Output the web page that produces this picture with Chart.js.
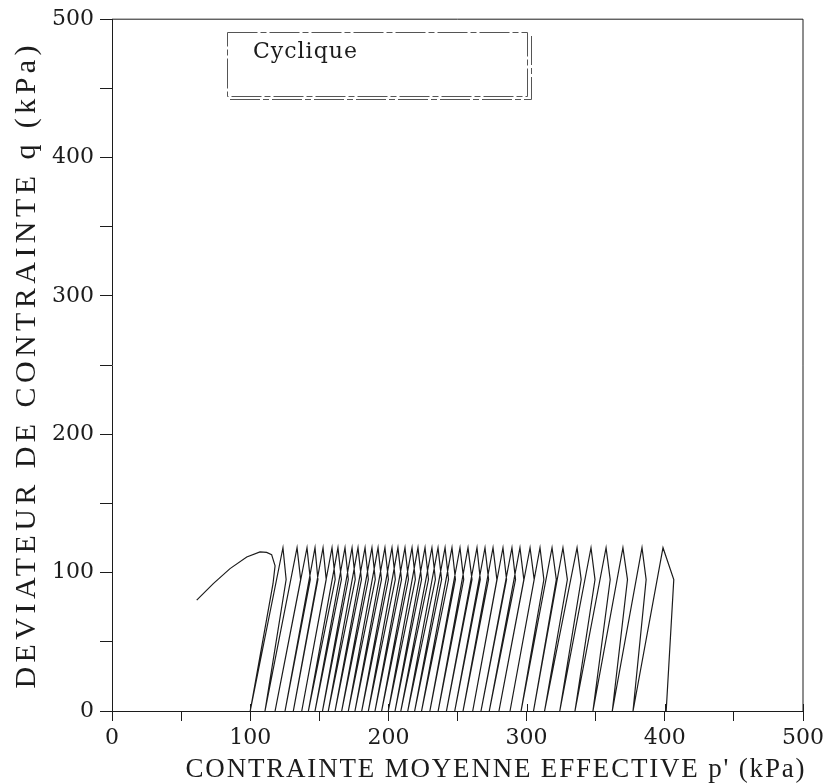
<!DOCTYPE html>
<html>
<head>
<meta charset="utf-8">
<script src="https://cdn.jsdelivr.net/npm/chart.js@4.4.0/dist/chart.umd.min.js"></script>
<style>
  body { margin: 0; background: #fff; }
  canvas { display: block; }
</style>
</head>
<body>
<canvas id="qp" width="831" height="784"></canvas>
<script>
// chemin des contraintes, essai cyclique
// p' au pied de chaque cycle (q = 0), dans l'ordre chronologique
var bottomP = [401, 377, 362, 348, 335, 324, 313, 305, 296, 288, 280, 273, 267, 261, 254, 248, 242, 236, 230, 224,
    219, 214, 209, 204.8, 199.9, 195.1, 190.3, 185.5, 180.7, 175.8, 171, 166.2, 161.4, 156.5, 152.3, 146.9, 142.1,
    137.3, 131.2, 125.2, 118, 110.7, 100]
// p' au sommet de chaque cycle
var peakP = [398.7, 383.5, 369.7, 357.5, 346.6, 336.5, 326.3, 318.4, 309.7, 302.5, 295.2, 289.4, 282.9, 275.7, 269.9,
    264.1, 257.6, 251.8, 246, 241, 235.9, 231.5, 226.5, 221.4, 217.1, 212, 206.9, 202.6, 197.5, 192.5, 188.1, 183.1,
    178, 173.7, 168.6, 163.5, 159.2, 152.7, 146.9, 141.1, 133.9, 123.7]
// p' sur la branche de chargement, juste sous le sommet
var bulgeP = [406.5, 386.5, 373, 360.5, 349.5, 339.5, 329.5, 321.5, 312.5, 305.5, 298, 292, 285.5, 278.5, 272.5,
    266.5, 260.5, 254.5, 248.5, 243.5, 238.5, 234, 229, 224, 219.5, 214.5, 209.5, 205, 200, 195, 190.5, 185.5,
    180.5, 176, 171, 166, 161.5, 155, 149, 143.5, 136.5, 126]
var qPeak = 118
var qBulge = 95
// dernier chargement puis rupture
var failP = [116.5, 118, 115.5, 111.9, 107.1, 97.5, 85.4, 73.3, 61.3]
var failQ = [92, 105, 113, 114.6, 115, 111.3, 102.9, 92.1, 80.1]

var xTicks = [0, 100, 200, 300, 400, 500]
var xTitle = "CONTRAINTE MOYENNE EFFECTIVE p' (kPa)"
var yTitle = 'DEVIATEUR DE CONTRAINTE q (kPa)'
var legendText = 'Cyclique'

// construction du chemin
var path = []
for (var i = 0; i < peakP.length; i++) {
    path.push({ x: bottomP[i], y: 0 })
    path.push({ x: bulgeP[i], y: qBulge })
    path.push({ x: peakP[i], y: qPeak })
}
path.push({ x: bottomP[bottomP.length - 1], y: 0 })
for (var i = 0; i < failP.length; i++) path.push({ x: failP[i], y: failQ[i] })

var ink = '#1c1c1c'
var tickFont = { family: 'DejaVu Serif', size: 22 }

// texte étiré sur une longueur donnée
function spacedText(ctx, text, cx, cy, target) {
    ctx.letterSpacing = '0px'
    var w = ctx.measureText(text).width
    var sp = (target - w) / (text.length - 1)
    ctx.letterSpacing = sp + 'px'
    ctx.textAlign = 'left'
    ctx.fillText(text, cx - target / 2, cy)
}

const frame = {
    id: 'frame',
    afterDraw(chart) {
        const ctx = chart.ctx, a = chart.chartArea, x = chart.scales.x
        ctx.save()
        ctx.strokeStyle = ink
        ctx.lineWidth = 1
        ctx.beginPath()
        ctx.moveTo(a.left, a.top); ctx.lineTo(a.right, a.top); ctx.lineTo(a.right, a.bottom)
        xTicks.forEach(v => {
            const px = Math.round(x.getPixelForValue(v)) + 0.5
            ctx.moveTo(px, a.bottom); ctx.lineTo(px, a.bottom - 7)
        })
        ctx.stroke()

        // cadre de la légende (ombré)
        ctx.strokeStyle = '#555'
        ctx.setLineDash([30, 3, 6, 3])
        ctx.strokeRect(227.5, 32.5, 300, 64)
        ctx.beginPath()
        ctx.moveTo(230, 99.5); ctx.lineTo(531.5, 99.5); ctx.lineTo(531.5, 36)
        ctx.stroke()
        ctx.setLineDash([])

        ctx.fillStyle = ink
        ctx.textBaseline = 'alphabetic'
        ctx.font = '22px "DejaVu Serif"'
        ctx.letterSpacing = '1px'
        ctx.textAlign = 'left'
        ctx.fillText(legendText, 253, 58)

        ctx.font = '27px "Liberation Serif"'
        spacedText(ctx, xTitle, 495, 777, 619)
        ctx.font = '30px "Liberation Serif"'
        ctx.translate(35, 367)
        ctx.rotate(-Math.PI / 2)
        spacedText(ctx, yTitle, 0, 0, 643)
        ctx.restore()
    }
}

var myChart = new Chart(document.getElementById('qp'), {
    type: 'scatter',
    data: {
        datasets: [{ label: 'Cyclique', data: path, showLine: true, borderColor: ink, borderWidth: 1.2,
            pointRadius: 0, tension: 0, fill: false }]
    },
    options: {
        responsive: false,
        animation: false,
        layout: { padding: { top: 19, right: 28, left: 0, bottom: 0 } },
        plugins: { legend: { display: false }, tooltip: { enabled: false } },
        scales: {
            x: {
                type: 'linear', min: 0, max: 500,
                afterFit: s => { s.height = 73 },
                ticks: { stepSize: 50, autoSkip: false, maxRotation: 0, padding: 4, color: ink, font: tickFont,
                    callback: v => v % 100 === 0 ? v : '' },
                grid: { drawOnChartArea: false, tickLength: 10, color: ink },
                border: { color: ink, width: 1 }
            },
            y: {
                type: 'linear', min: 0, max: 500,
                afterFit: s => { s.width = 112 },
                ticks: { stepSize: 50, autoSkip: false, padding: 6, color: ink, font: tickFont,
                    callback: v => v % 100 === 0 ? v : '' },
                grid: { drawOnChartArea: false, tickLength: 12, color: ink },
                border: { color: ink, width: 1 }
            }
        }
    },
    plugins: [frame]
})
</script>
</body>
</html>
